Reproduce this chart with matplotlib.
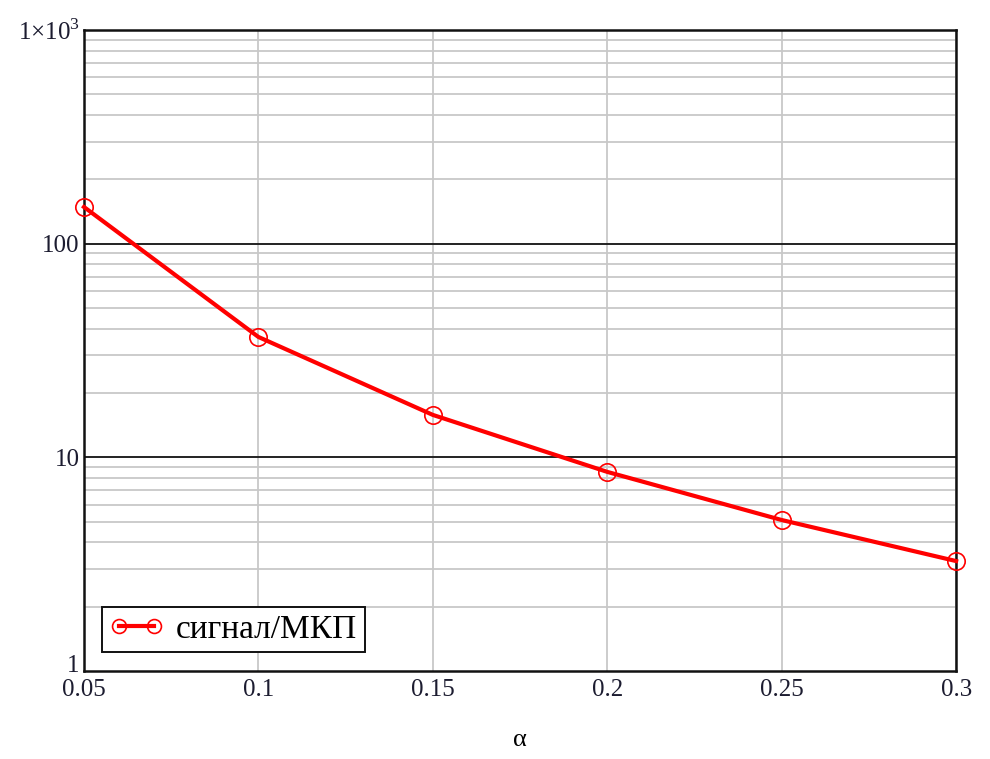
import matplotlib as mpl
mpl.use('Agg')
from matplotlib import pyplot as plt
from matplotlib import transforms
from matplotlib.ticker import FixedLocator, NullFormatter

plt.rcParams['font.family'] = ['Liberation Serif', 'DejaVu Serif']
plt.rcParams['mathtext.fontset'] = 'custom'
plt.rcParams['mathtext.rm'] = 'Liberation Serif'

# values
alpha = [0.05, 0.1, 0.15, 0.2, 0.25, 0.3]
ratio = [148.5, 36.6, 15.8, 8.55, 5.09, 3.27]
series_label = 'сигнал/МКП'

xticks = [0.05, 0.1, 0.15, 0.2, 0.25, 0.3]
xtick_labels = ['0.05', '0.1', '0.15', '0.2', '0.25', '0.3']
yticks = [1, 10, 100, 1000]
ytick_labels = ['1', '10', '100', r'1×10$^{\mathregular{3}}$']

fig = plt.figure(figsize=(9.9, 7.59), dpi=100)
ax = fig.add_axes([0.0848, 0.1159, 0.881, 0.8446])

ax.set_yscale('log')
ax.set_xlim(0.05, 0.3)
ax.set_ylim(1, 1000)

# minor grid (grey) on 2..9 of each decade
minors = [m * 10 ** d for d in range(0, 3) for m in range(2, 10)]
ax.yaxis.set_minor_locator(FixedLocator(minors))
ax.yaxis.set_minor_formatter(NullFormatter())
ax.grid(True, which='minor', axis='y', color='#c8c8c8', lw=1.3)
ax.grid(True, which='major', axis='x', color='#c8c8c8', lw=1.3)
ax.set_axisbelow(True)
for v in [10, 100]:
    ax.axhline(v, color='#222222', lw=1.4, zorder=1.5)

ax.plot(alpha, ratio, color='red', lw=3, marker='o', ms=12.5,
        mfc='none', mec='red', mew=1.2, label=series_label, zorder=3,
        clip_on=False)

ax.set_xticks(xticks)
ax.set_xticklabels(xtick_labels)
ax.set_yticks(yticks)
ax.set_yticklabels(ytick_labels)
ax.tick_params(which='both', length=0, labelsize=18, colors='#1c1c30')
ax.tick_params(axis='x', pad=6)
ax.tick_params(axis='y', pad=3)

# lift the bottom "1" a little so it clears "0.05"
lab1 = ax.get_yticklabels()[0]
lab1.set_transform(lab1.get_transform() +
                   transforms.ScaledTranslation(0, 8 / 100, fig.dpi_scale_trans))

for s in ax.spines.values():
    s.set_linewidth(1.8)
    s.set_color('#111111')

ax.set_xlabel('α', fontsize=19, labelpad=20)

leg = ax.legend(loc='lower left', bbox_to_anchor=(0.0207, 0.0297),
                fontsize=24, frameon=True, fancybox=False, numpoints=2,
                markerscale=0.8, borderpad=0.22, handlelength=1.65,
                handletextpad=0.35, borderaxespad=0)
leg.get_frame().set_edgecolor('#111111')
leg.get_frame().set_linewidth(1.4)
leg.get_frame().set_alpha(1)

fig.savefig('out.png', dpi=100)
